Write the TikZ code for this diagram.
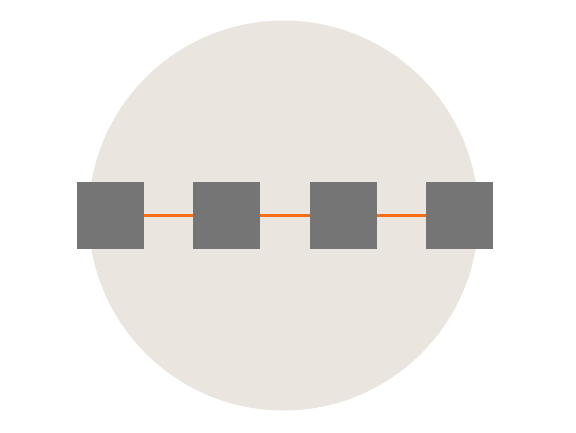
\documentclass[tikz,border=0pt]{standalone}
\usepackage{tikz}
\usetikzlibrary{positioning}

\definecolor{discbg}{RGB}{234,230,223}
\definecolor{boxgrey}{RGB}{117,117,117}
\definecolor{linkorange}{RGB}{245,110,20}

\tikzset{
    unitbox/.style={fill=boxgrey, minimum size=67pt, inner sep=0pt, outer sep=0pt},
    link/.style={linkorange, line width=3pt}
}

\begin{document}
\begin{tikzpicture}[x=1pt, y=-1pt]
                \useasboundingbox (0,0) rectangle (576,432);
                \fill[discbg] (283.5,215.5) circle (195pt);
                \node[unitbox] (b1) at (110.5,215.8) {};
                \node[unitbox, right=49.3pt of b1] (b2) {};
                \node[unitbox, right=49.3pt of b2] (b3) {};
                \node[unitbox, right=49.3pt of b3] (b4) {};
                \draw[link] (b1) -- (b2);
                \draw[link] (b2) -- (b3);
                \draw[link] (b3) -- (b4);
            \end{tikzpicture}
\end{document}
